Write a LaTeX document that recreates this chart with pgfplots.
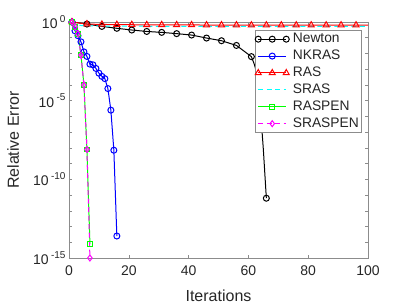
\documentclass[border=0pt]{standalone}
\usepackage{fontspec}
\setmainfont{Liberation Sans}
\usepackage{pgfplots}
\pgfplotsset{compat=1.18}
\definecolor{axgray}{rgb}{0.55,0.55,0.55}
\definecolor{txtgray}{rgb}{0.15,0.15,0.15}
\definecolor{mblue}{rgb}{0,0,1}
\definecolor{mred}{rgb}{1,0,0}
\definecolor{mcyan}{rgb}{0,1,1}
\definecolor{mgreen}{rgb}{0,1,0}
\definecolor{mmag}{rgb}{1,0,1}
\newcommand{\ytl}[1]{10\,\raisebox{0.45em}{\fontsize{10}{12}\selectfont #1}}
\begin{document}
\begin{tikzpicture}
\useasboundingbox (0,0) rectangle (407pt,305pt);
\begin{axis}[
  at={(69pt,47pt)}, anchor=south west,
  scale only axis, width=299pt, height=236pt,
  ymode=log, xmin=0, xmax=100, ymin=1e-15, ymax=1,
  xtick={0,20,40,60,80,100}, xticklabels={0,20,40,60,80,100},
  ytick={1e-15,1e-10,1e-5,1},
  yticklabels={\ytl{-15},\ytl{-10},\ytl{-5},\ytl{0}},
  minor ytick={1e-14,1e-13,1e-12,1e-11,1e-9,1e-8,1e-7,1e-6,1e-4,1e-3,1e-2,1e-1},
  tick align=inside,
  axis line style={axgray, line width=0.6pt},
  every tick/.style={axgray, line width=0.6pt},
  major tick length=3.5pt, minor tick length=3.5pt,
  tick label style={font=\fontsize{14}{16}\selectfont, text=txtgray},
  xticklabel style={yshift=-4pt},
  xlabel={Iterations}, ylabel={Relative Error},
  label style={font=\fontsize{16}{18}\selectfont, text=txtgray},
  xlabel style={at={(axis description cs:0.5,-0.161)}, anchor=center},
  ylabel style={at={(axis description cs:-0.187,0.5)}, anchor=center},
  legend style={at={(0.977,0.966)}, anchor=north east, draw=axgray, fill=white,
    font=\fontsize{13.8}{16}\selectfont, text=txtgray, inner sep=0.5pt,
    nodes={inner sep=1.6pt, text height=10.5pt, text depth=3.2pt},
    /tikz/every odd column/.append style={column sep=2pt}},
  legend cell align=left,
  legend image code/.code={\draw[mark repeat=2,mark phase=2] plot coordinates {(0pt,0pt)(14pt,0pt)(28pt,0pt)};},
]
% Newton
\addplot[black, line width=1pt, mark=o, mark size=3pt, mark options={solid},
  mark indices={1,2,3,4,5,6,7,8,9,10,11,12,13,18}] coordinates {
(1,1) (6,0.741) (11,0.525) (16,0.398) (21,0.309) (26,0.251) (31,0.219)
(36,0.182) (41,0.148) (46,0.0955) (51,0.0646) (56,0.0324) (61,6.3e-3)
(62,2.0e-3) (63,4.0e-4) (64,3.2e-6) (65,7.9e-9) (66,6.3e-12)};
\addlegendentry{Newton}
% NKRAS
\addplot[mblue, line width=1pt, mark=o, mark size=3pt, mark options={solid}] coordinates {
(1,1) (2,0.275) (3,0.135) (4,0.055) (5,0.0126) (6,6.5e-3) (7,2.1e-3) (8,1.9e-3)
(9,1.12e-3) (10,5.6e-4) (11,3.5e-4) (12,2.5e-4) (13,5.9e-5) (14,2.5e-6)
(15,7.1e-9) (16,2.5e-14)};
\addlegendentry{NKRAS}
% RAS
\addplot[mred, line width=1pt, mark=triangle, mark size=3.5pt, mark options={solid},
  mark indices={1,2,3,4,5,6,7,8,9,10,11,12,13,14,15,16,17,18,19,20}] coordinates {
(1,1) (6,0.74) (11,0.70) (16,0.68) (21,0.67) (26,0.66) (31,0.66) (36,0.65)
(41,0.65) (46,0.64) (51,0.64) (56,0.64) (61,0.63) (66,0.63) (71,0.63)
(76,0.63) (81,0.63) (86,0.63) (91,0.63) (96,0.63) (100,0.63)};
\addlegendentry{RAS}
% SRAS
\addplot[mcyan, line width=1pt, dash pattern=on 5pt off 3.5pt] coordinates {
(1,1) (2,0.70) (3,0.62) (5,0.58) (10,0.56) (20,0.54) (40,0.53) (60,0.52) (80,0.52) (100,0.52)};
\addlegendentry{SRAS}
% RASPEN
\addplot[mgreen, line width=1pt, mark=square, mark size=2.3pt, mark options={solid}] coordinates {
(1,1) (2,0.5) (3,0.18) (4,7.9e-3) (5,1e-4) (6,7.9e-9) (7,7.9e-15)};
\addlegendentry{RASPEN}
% SRASPEN
\addplot[mmag, line width=1pt, dash pattern=on 5pt off 3.5pt, mark=diamond, mark size=3pt, mark options={solid}] coordinates {
(1,1) (2,0.5) (3,0.18) (4,7.9e-3) (5,1e-4) (6,7.9e-9) (7,1e-15)};
\addlegendentry{SRASPEN}
\end{axis}
\end{tikzpicture}
\end{document}
